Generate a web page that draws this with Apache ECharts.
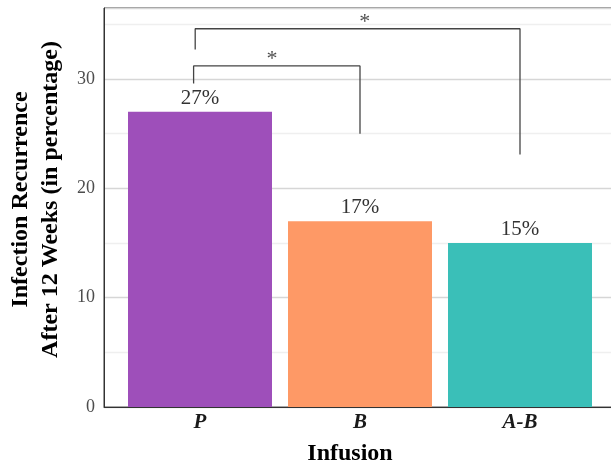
<!DOCTYPE html>
<html>
<head>
<meta charset="utf-8">
<script src="https://cdn.jsdelivr.net/npm/echarts@6/dist/echarts.min.js"></script>
<style>
html,body{margin:0;padding:0;background:#fff;}
#main{width:611px;height:464px;}
</style>
</head>
<body>
<div id="main"></div>
<script>
var categories = ['P', 'B', 'A-B'];
var recurrence = [27, 17, 15];
var barColors = ['#9e4fba', '#fe9966', '#3abfb8'];
var yTicks = [0, 10, 20, 30];
// significance brackets (x in category units, y in %)
var bracketPB = [[0.96, 29.6], [0.96, 31.2], [2.0, 31.2], [2.0, 25.0]];
var bracketPAB = [[0.97, 32.7], [0.97, 34.6], [3.0, 34.6], [3.0, 23.1]];
var stars = [[1.45, 31.2], [2.03, 34.6]];

var serif = '"Liberation Serif", "Times New Roman", serif';
var chart = echarts.init(document.getElementById('main'));

var barData = recurrence.map(function (v, i) {
  return { value: [i + 1, v], itemStyle: { color: barColors[i] } };
});

chart.setOption({
  animation: false,
  textStyle: { fontFamily: serif },
  grid: {
    left: 104, top: 8, width: 512, bottom: 57,
    show: true, borderColor: '#333', borderWidth: 1,
    outerBoundsMode: 'none'
  },
  xAxis: {
    type: 'value', min: 0.4, max: 3.6,
    name: 'Infusion', nameLocation: 'middle', nameGap: 35,
    nameTextStyle: { fontFamily: serif, fontWeight: 'bold', fontSize: 24, color: '#000', padding: [0, 20, 0, 0] },
    axisLine: { show: true, lineStyle: { color: '#333', width: 1 } },
    axisTick: { show: false },
    splitLine: { show: false },
    axisLabel: {
      customValues: [1, 2, 3],
      formatter: function (v) { return categories[Math.round(v) - 1]; },
      fontFamily: serif, fontWeight: 'bold', fontStyle: 'italic', fontSize: 21,
      color: '#1a1a1a', margin: 5
    }
  },
  yAxis: {
    type: 'value', min: 0, max: 36.5, interval: 5,
    name: 'Infection Recurrence\nAfter 12 Weeks (in percentage)',
    nameLocation: 'middle', nameGap: 36, nameRotate: 90,
    nameTextStyle: { fontFamily: serif, fontWeight: 'bold', fontSize: 24, lineHeight: 30, color: '#000', padding: [0, 0, 0, 16] },
    axisLine: { show: true, lineStyle: { color: '#333', width: 1 } },
    axisTick: { show: false },
    splitLine: { show: true, lineStyle: { color: ['#d6d6d6', '#efefef'], width: 1.3 } },
    axisLabel: {
      formatter: function (v) { return yTicks.indexOf(v) >= 0 ? String(v) : ''; },
      fontFamily: serif, fontSize: 18, color: '#4d4d4d', margin: 9
    }
  },
  series: [
    {
      type: 'bar', barWidth: 144, data: barData,
      label: {
        show: true, position: 'top', distance: 3,
        formatter: function (p) { return p.value[1] + '%'; },
        fontFamily: serif, fontSize: 21, color: '#333'
      }
    },
    {
      type: 'line', data: bracketPB, symbol: 'none',
      lineStyle: { color: '#444', width: 1.3 }
    },
    {
      type: 'line', data: bracketPAB, symbol: 'none',
      lineStyle: { color: '#444', width: 1.3 }
    },
    {
      type: 'scatter', data: stars, symbolSize: 0,
      label: {
        show: true, position: 'top', distance: -4, formatter: '*',
        fontFamily: serif, fontSize: 22, color: '#222'
      }
    }
  ]
});
</script>
</body>
</html>
